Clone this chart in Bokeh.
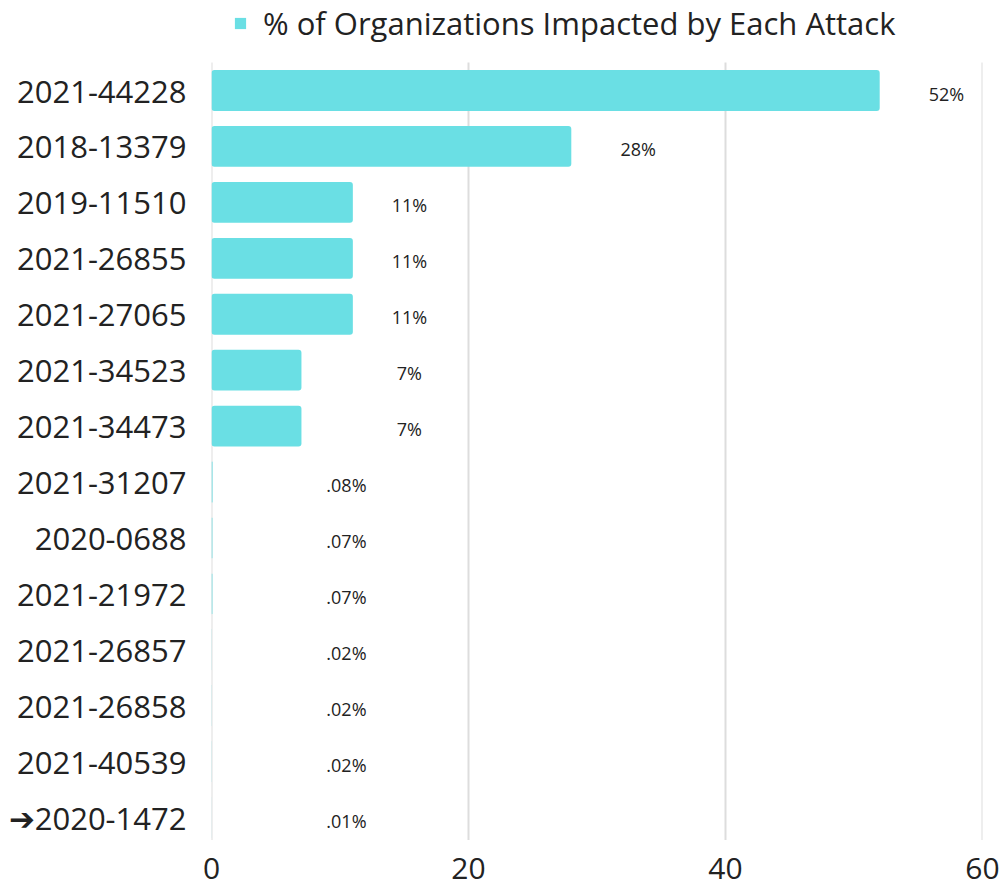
import numpy as np
from bokeh.plotting import figure
from bokeh.models import ColumnDataSource, Legend, LegendItem, FixedTicker, Range1d
from bokeh.core.properties import value
from bokeh.embed import file_html
from bokeh.resources import INLINE

cves = ["2021-44228", "2018-13379", "2019-11510", "2021-26855", "2021-27065",
        "2021-34523", "2021-34473", "2021-31207", "2020-0688", "2021-21972",
        "2021-26857", "2021-26858", "2021-40539", "\u27942020-1472"]
pct = [52, 28, 11, 11, 11, 7, 7, 0.08, 0.07, 0.07, 0.02, 0.02, 0.02, 0.01]
pct_labels = ["52%", "28%", "11%", "11%", "11%", "7%", "7%",
              ".08%", ".07%", ".07%", ".02%", ".02%", ".02%", ".01%"]
x_ticks = [0, 20, 40, 60]
series_name = "% of Organizations Impacted by Each Attack"

FONT = "Open Sans"
BAR = "#6ADFE4"
TXT = "#222222"

n = len(cves)
ypos = np.arange(n)[::-1].astype(float)
v = np.array(pct, dtype=float)
lab_x = np.where(v >= 20, v + 5.2, np.where(v >= 5, 15.4, 10.5))

src = ColumnDataSource(dict(y=ypos, pct=pct, lab=pct_labels, lab_x=lab_x))

# frame: top of canvas to 845px; rows of ~56px, with ~62px free above the first row
p = figure(width=1006, height=890, output_backend="svg", toolbar_location=None,
           y_range=Range1d(-0.5, n - 0.5 + 1.11), x_range=Range1d(0, 60))
p.min_border_left = 211
p.min_border_right = 24
p.min_border_top = 0
p.min_border_bottom = 45
p.outline_line_color = None

# vertical grid lines spanning only the category rows
p.segment(x0=x_ticks, x1=x_ticks, y0=[-0.4] * len(x_ticks), y1=[n - 0.5] * len(x_ticks),
          line_color="#DDDDDD", line_width=2)

r = p.hbar(y="y", right="pct", left=0, height=0.73, source=src,
           fill_color=BAR, line_color=None, border_radius=3)

p.text(x="lab_x", y="y", text="lab", source=src, text_align="center",
       text_baseline="middle", text_font=value(FONT), text_font_size="18px",
       text_color=TXT, y_offset=3)

p.xaxis.ticker = FixedTicker(ticks=x_ticks)
p.xaxis.axis_line_color = None
p.xaxis.major_tick_line_color = None
p.xaxis.minor_tick_line_color = None
p.xaxis.major_label_text_font = FONT
p.xaxis.major_label_text_font_size = "30px"
p.xaxis.major_label_text_color = TXT
p.xaxis.major_label_standoff = 6

p.yaxis.ticker = FixedTicker(ticks=list(ypos))
p.yaxis.major_label_overrides = {float(yv): c for yv, c in zip(ypos, cves)}
p.yaxis.axis_line_color = None
p.yaxis.major_tick_line_color = None
p.yaxis.minor_tick_line_color = None
p.yaxis.major_label_text_font = FONT
p.yaxis.major_label_text_font_size = "31px"
p.yaxis.major_label_text_color = TXT
p.yaxis.major_label_standoff = 19

p.grid.grid_line_color = None

legend = Legend(items=[LegendItem(label=series_name, renderers=[r])],
                orientation="horizontal", location=(22, 801),
                label_text_font=FONT, label_text_font_size="31px",
                label_text_color=TXT, glyph_width=14, glyph_height=14,
                label_height=30,
                border_line_color=None, background_fill_alpha=0,
                padding=0, margin=0, label_standoff=16)
p.add_layout(legend, "center")

open("out.html", "w").write(file_html(p, INLINE))
